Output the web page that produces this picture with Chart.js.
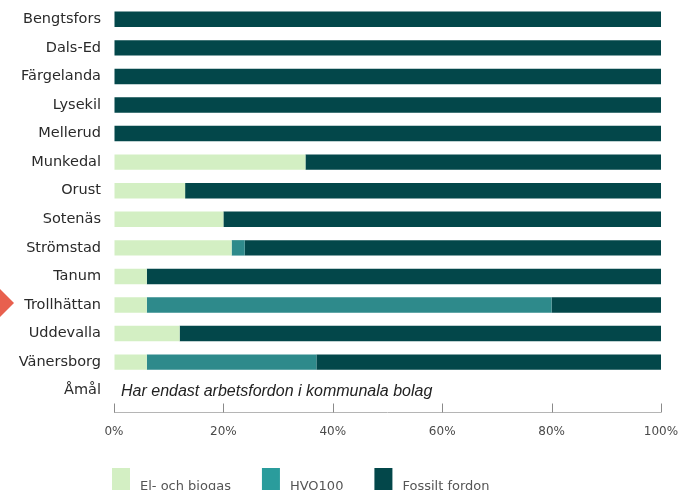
<!DOCTYPE html>
<html>
<head>
<meta charset="utf-8">
<script src="https://cdn.jsdelivr.net/npm/chart.js@4.4.1/dist/chart.umd.min.js"></script>
<style>
  html, body { margin: 0; padding: 0; background: #ffffff; }
  #wrap { width: 678px; height: 490px; position: relative; }
</style>
</head>
<body>
<div id="wrap"><canvas id="c" width="678" height="490"></canvas></div>
<script>
// ---- data ----
const categories = ['Bengtsfors','Dals-Ed','Färgelanda','Lysekil','Mellerud','Munkedal','Orust','Sotenäs','Strömstad','Tanum','Trollhättan','Uddevalla','Vänersborg','Åmål'];
const elBiogas = [0, 0, 0, 0, 0, 35, 13, 20, 21.5, 6, 6, 12, 6, null];
const hvo100   = [0, 0, 0, 0, 0, 0, 0, 0, 2.4, 0, 74, 0, 31, null];
const fossilt  = [100, 100, 100, 100, 100, 65, 87, 80, 76.1, 94, 20, 88, 63, null];
const xTicks = [0, 20, 40, 60, 80, 100];
const seriesNames = ['El- och biogas', 'HVO100', 'Fossilt fordon'];
const noteCategory = 'Åmål';
const noteText = 'Har endast arbetsfordon i kommunala bolag';
const markedCategory = 'Trollhättan';

const colors = ['#d3efc3', '#2e8a8b', '#03474a'];
const legendColors = ['#d3efc3', '#2a9c9c', '#03474a'];
const FONT = '"DejaVu Sans", "Open Sans", sans-serif';

const extras = {
  id: 'extras',
  afterDraw(chart) {
    const ctx = chart.ctx;
    const xs = chart.scales.x, ys = chart.scales.y;
    const area = chart.chartArea;
    ctx.save();
    // axis line + upward ticks
    const yLine = Math.round(area.bottom + 7) + 0.5;
    ctx.strokeStyle = '#b5b5b5';
    ctx.lineWidth = 1;
    ctx.beginPath();
    ctx.moveTo(xs.getPixelForValue(0), yLine);
    ctx.lineTo(xs.getPixelForValue(100), yLine);
    ctx.stroke();
    ctx.strokeStyle = '#8a8a8a';
    xTicks.forEach(v => {
      const px = Math.round(xs.getPixelForValue(v)) + 0.5;
      ctx.beginPath();
      ctx.moveTo(px, yLine - 9);
      ctx.lineTo(px, yLine);
      ctx.stroke();
    });
    // note text in Åmål row
    const iNote = categories.indexOf(noteCategory);
    ctx.fillStyle = '#222222';
    ctx.font = 'italic 16px "Liberation Sans", Arial, sans-serif';
    ctx.textAlign = 'left';
    ctx.textBaseline = 'middle';
    ctx.fillText(noteText, xs.getPixelForValue(0) + 7, ys.getPixelForValue(iNote) + 1);
    // red marker triangle
    const iMark = categories.indexOf(markedCategory);
    const ym = ys.getPixelForValue(iMark) - 2;
    ctx.fillStyle = '#e8604e';
    ctx.beginPath();
    ctx.moveTo(-3, ym - 17);
    ctx.lineTo(14, ym);
    ctx.lineTo(-3, ym + 17);
    ctx.closePath();
    ctx.fill();
    // legend
    let lx = xs.getPixelForValue(0) - 2;
    const boxTop = area.bottom + 63;
    ctx.font = '13px ' + FONT;
    ctx.textBaseline = 'middle';
    chart.data.datasets.forEach((ds, i) => {
      ctx.fillStyle = legendColors[i];
      ctx.fillRect(lx, boxTop, 18, 24);
      ctx.fillStyle = '#555555';
      ctx.fillText(ds.label, lx + 28, boxTop + 19);
      lx += 28 + ctx.measureText(ds.label).width + 31;
    });
    ctx.restore();
  }
};

const mkDs = (label, data, i) => ({
  label, data, backgroundColor: colors[i], borderWidth: 0,
  barPercentage: 0.54, categoryPercentage: 1.0
});

new Chart(document.getElementById('c'), {
  type: 'bar',
  data: {
    labels: categories,
    datasets: [
      mkDs(seriesNames[0], elBiogas, 0),
      mkDs(seriesNames[1], hvo100, 1),
      mkDs(seriesNames[2], fossilt, 2)
    ]
  },
  options: {
    indexAxis: 'y',
    responsive: false,
    animation: false,
    devicePixelRatio: 1,
    layout: { padding: { top: 5, right: 17, bottom: 40, left: 0 } },
    plugins: {
      legend: { display: false },
      tooltip: { enabled: false }
    },
    scales: {
      x: {
        stacked: true,
        min: 0, max: 100,
        afterBuildTicks(scale) { scale.ticks = xTicks.map(v => ({ value: v })); },
        afterFit(scale) { scale.paddingLeft = 0; scale.paddingRight = 0; scale.height = 45; },
        grid: { display: true, drawOnChartArea: false, drawTicks: true, tickLength: 7, color: 'rgba(0,0,0,0)' },
        border: { display: false },
        ticks: {
          padding: 13,
          color: '#4a4a4a',
          font: { family: FONT, size: 12 },
          maxRotation: 0,
          callback: v => v + '%'
        }
      },
      y: {
        stacked: true,
        afterFit(scale) { scale.width = 114; scale.paddingTop = 0; scale.paddingBottom = 0; },
        grid: { display: false, drawTicks: false },
        border: { display: false },
        ticks: {
          padding: 13,
          color: '#2a2a2a',
          font: { family: FONT, size: 14.5 },
          autoSkip: false
        }
      }
    }
  },
  plugins: [extras]
});
</script>
</body>
</html>
